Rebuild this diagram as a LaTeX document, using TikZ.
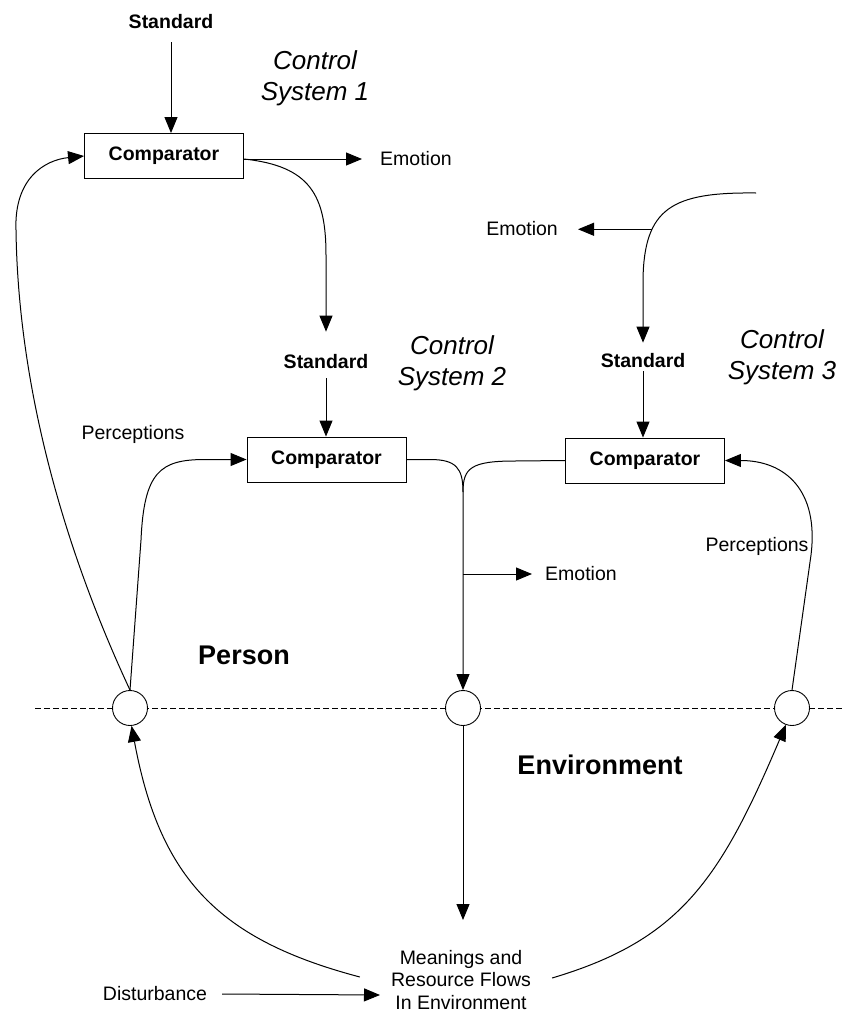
\documentclass[tikz,border=0pt]{standalone}
\usepackage{fontspec}
\setmainfont{Liberation Sans}
\usetikzlibrary{arrows.meta,positioning}

\begin{document}
\begin{tikzpicture}[
    x=1pt,y=-1pt,
    node distance=15pt,
    box/.style={draw,line width=0.9pt,minimum width=159pt,minimum height=45pt,inner sep=0pt,
      font=\fontsize{19.5}{22}\selectfont\bfseries},
    junction/.style={circle,draw,line width=0.9pt,fill=white,minimum size=35pt,inner sep=0pt},
    lbl/.style={font=\fontsize{19.5}{22.5}\selectfont,inner sep=3pt},
    stdlbl/.style={font=\fontsize{19.5}{22}\selectfont\bfseries,inner sep=3pt},
    syslbl/.style={font=\fontsize{26}{31}\selectfont\itshape,align=center},
    zone/.style={font=\fontsize{27}{30}\selectfont\bfseries},
    arrow/.style={-{Triangle[length=16pt,width=13pt]},line width=1pt},
    link/.style={line width=1pt},
    divider/.style={dash pattern=on 6pt off 3pt,line width=0.9pt}
]
\fill[white] (0,0) rectangle (843,1012);
\useasboundingbox (0,0) rectangle (843,1012);

% control system 1
\node[stdlbl] (std1) at (171,22) {Standard};
\node[box] (comp1) at (164,156) {Comparator};
\node[syslbl] (sys1) at (315,78) {Control\\System 1};
\coordinate (e1) at (362,159);
\node[lbl,right=15pt of e1] (emo1) {Emotion};

% control system 2
\node[stdlbl] (std2) at (326,362) {Standard};
\node[box] (comp2) at (326.5,459.5) {Comparator};
\node[syslbl] (sys2) at (452,363) {Control\\System 2};
\node[lbl] (perc1) at (133,434) {Perceptions};

% control system 3
\coordinate (topin) at (756,193);
\coordinate (e2) at (578,229);
\node[lbl,left=17pt of e2] (emo2) {Emotion};
\node[stdlbl] (std3) at (643,361) {Standard};
\node[box] (comp3) at (645,460.5) {Comparator};
\node[syslbl] (sys3) at (782,357) {Control\\System 3};
\node[lbl] (perc2) at (757,546) {Perceptions};

% person / environment
\node[zone] (person) at (244,655) {Person};
\node[zone] (env) at (600,765) {Environment};
\draw[divider] (35,708) -- (843,708);
\node[junction] (circ1) at (130,708) {};
\node[junction] (circ2) at (463,708) {};
\node[junction] (circ3) at (792,708) {};
\coordinate (e3) at (532,574);
\node[lbl,right=10pt of e3] (emo3) {Emotion};
\node[lbl,align=center] (mean) at (461,980) {Meanings and\\Resource Flows\\In Environment};
\node[lbl] (dist) at (155,994) {Disturbance};
\coordinate (meantop) at (463,920);
\coordinate (disttip) at (380,995);
\coordinate (merge) at (463,492);

\draw[arrow] ([yshift=-10pt]std1.south) -- (std1.south |- comp1.north);
\draw[arrow] (comp1.east |- e1) -- (e1);
\draw[arrow] (comp1.east |- e1) .. controls (310,166) and (326,195) .. (326,255) -- ([yshift=20pt]std2.north);
\draw[arrow] (circ1.north) .. controls (60,540) and (18,380) .. (16,230) .. controls (14,178) and (45,160) .. (comp1.west);

\draw[arrow] ([yshift=-6pt]std2.south) -- (std2.south |- comp2.north);
\draw[arrow] (circ1.north) -- (141,540) .. controls (144,472) and (160,459.5) .. (205,459.5) -- (comp2.west);
\draw[arrow] (comp2.east) -- (430,459.5) .. controls (456,459.5) and (463,468) .. (merge) -- (circ2.north);
\draw[arrow] (e3 -| circ2.north) -- (e3);

\draw[arrow] (topin) .. controls (672,192) and (644,208) .. (643,280) coordinate[pos=0.7] (split3) -- ([yshift=8pt]std3.north);
\draw[arrow] (split3) -- (split3 -| e2);
\draw[arrow] (std3.south) -- (std3.south |- comp3.north);
\draw[link] (comp3.west) -- (515,461) .. controls (471,461) and (463,468) .. (merge);
\draw[arrow] (circ3.north) -- (811,555) .. controls (819,490) and (785,460.5) .. (comp3.east);

\draw[arrow] (circ2) -- (meantop);
\draw[arrow] ([xshift=-28pt,yshift=3pt]mean.west) .. controls (220,940) and (160,880) .. (circ1.275);
\draw[arrow] ([xshift=18pt,yshift=2pt]mean.east) .. controls (680,940) and (720,880) .. (circ3.250);
\draw[arrow] ([xshift=12pt]dist.east) -- (disttip);
\end{tikzpicture}
\end{document}
